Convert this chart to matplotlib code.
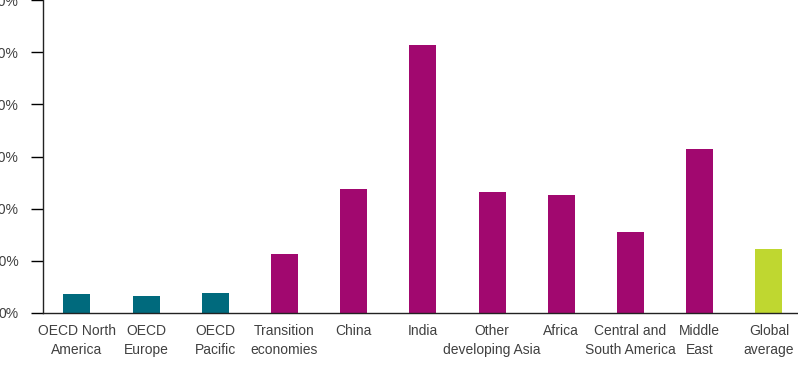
import numpy as np
import matplotlib.pyplot as plt

plt.rcParams['font.family'] = ['Liberation Sans', 'DejaVu Sans']

regions = ['OECD North\nAmerica', 'OECD\nEurope', 'OECD\nPacific', 'Transition\neconomies',
           'China', 'India', 'Other\ndeveloping Asia', 'Africa', 'Central and\nSouth America',
           'Middle\nEast', 'Global\naverage']
values = [3.6, 3.3, 3.8, 11.3, 23.8, 51.3, 23.2, 22.6, 15.5, 31.4, 12.3]
groups = ['oecd', 'oecd', 'oecd', 'non', 'non', 'non', 'non', 'non', 'non', 'non', 'world']
yticks = [0, 10, 20, 30, 40, 50, 60]

colors = {'oecd': '#006A7D', 'non': '#A1086F', 'world': '#BFD730'}
text_col = '#404040'

fig = plt.figure(figsize=(7.98, 3.66), dpi=100)
ax = fig.add_axes([43 / 798, 53 / 366, 1 - 43 / 798, 1 - 53 / 366])

x = np.arange(len(regions))
ax.bar(x, values, width=0.39, color=[colors[g] for g in groups])

ax.set_xlim(-0.49, 10.42)
ax.set_ylim(0, 60)
ax.set_yticks(yticks)
ax.set_yticklabels([f'{v}%' for v in yticks], color=text_col, fontsize=10)
ax.set_xticks(x)
ax.set_xticklabels(regions, color=text_col, fontsize=10, linespacing=1.45)
ax.tick_params(axis='x', length=0, pad=8)
ax.tick_params(axis='y', length=8.6, width=1, pad=9)

for s in ['top', 'right']:
    ax.spines[s].set_visible(False)
for s in ['left', 'bottom']:
    ax.spines[s].set_linewidth(1)
    ax.spines[s].set_color('#222222')

fig.savefig('out.png', dpi=100)
